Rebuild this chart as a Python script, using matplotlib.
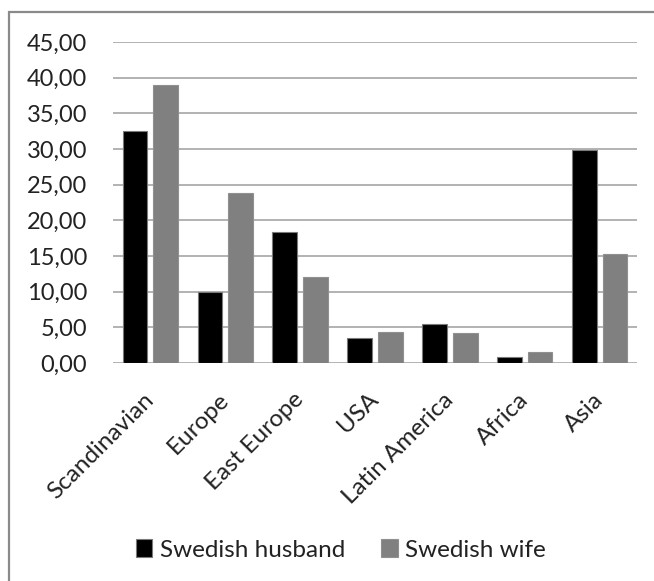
import numpy as np
import matplotlib
matplotlib.use('Agg')
import matplotlib.pyplot as plt
from matplotlib.patches import Rectangle

# ===== Data =====
categories = ['Scandinavian', 'Europe', 'East Europe', 'USA',
              'Latin America', 'Africa', 'Asia']
husband = [32.5, 9.9, 18.3, 3.55, 5.4, 0.9, 29.9]
wife = [39.0, 23.8, 12.0, 4.35, 4.2, 1.5, 15.3]
yticks = np.arange(0, 46, 5)

plt.rcParams['font.family'] = ['Lato', 'DejaVu Sans']

fig = plt.figure(figsize=(6.54, 5.81), dpi=100)
ax = fig.add_axes([0.1728, 0.3752, 0.8012, 0.5525])

# chart frame (cropped at right and bottom like the original)
fig.patches.append(Rectangle((9 / 654, -0.05), 1.2, 1 - 12 / 581 + 0.05,
                             transform=fig.transFigure, fill=False,
                             edgecolor='#8a8a8a', linewidth=1.6))

x = np.arange(len(categories))
w = 0.33
ax.bar(x - 0.205, husband, w, color='black', edgecolor='#7a7a7a',
       linewidth=0.8, label='Swedish husband', zorder=3)
ax.bar(x + 0.205, wife, w, color='#808080', edgecolor='#909090',
       linewidth=0.8, label='Swedish wife', zorder=3)

ax.set_xlim(-0.5, len(categories) - 0.5)
ax.set_ylim(0, 45)
ax.set_yticks(yticks)
ax.set_yticklabels([f'{v:.2f}'.replace('.', ',') for v in yticks],
                   fontsize=17, color='#222222')
ax.set_xticks(x)
ax.set_xticklabels(categories, rotation=45, ha='right', va='center',
                   rotation_mode='anchor', fontsize=17.5, color='#222222')
ax.tick_params(axis='y', length=0, pad=18.5)
ax.tick_params(axis='x', length=0, pad=24)
ax.grid(axis='y', color='#a6a6a6', linewidth=1.2, zorder=0)
for s in ax.spines.values():
    s.set_visible(False)

fig.legend(loc='center', bbox_to_anchor=(341 / 654, 0.0534), ncol=2,
           frameon=False, fontsize=17.5, handlelength=0.66, handleheight=0.74,
           handletextpad=0.3, columnspacing=1.5, labelcolor='#222222')

fig.savefig('out.png', dpi=100)
